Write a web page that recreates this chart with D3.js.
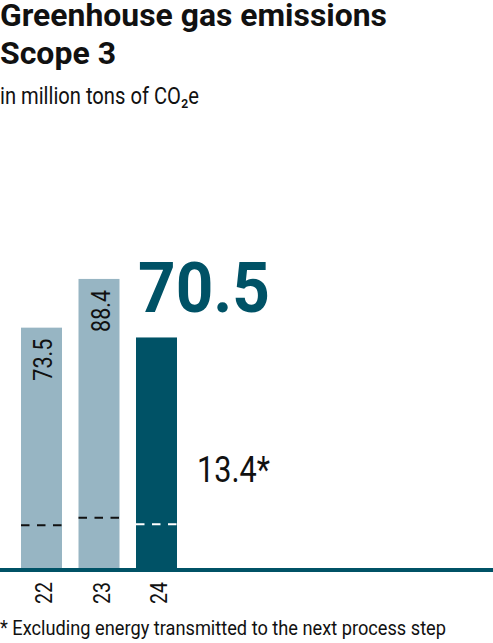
<!DOCTYPE html>
<html>
<head>
<meta charset="utf-8">
<script src="https://cdn.jsdelivr.net/npm/d3@7"></script>
<style>
  body { margin: 0; background: #fff; }
  svg text { font-family: Roboto, "Noto Sans", sans-serif; }
</style>
</head>
<body>
<div id="chart"></div>
<script>
// values
const years = ["22", "23", "24"];
const totals = [73.5, 88.4, 70.5];
const excluded = [13.1, 15.4, 13.4];   // dashed marks, only the last one is labelled
const highlight = "24";

const lightBar = "#97b5c3";
const darkBar = "#005266";

const width = 493, height = 643;

// Roboto is wider than the narrow corporate font, so stretch/squash to the width seen
function fit(sel, w) {
    sel.attr("textLength", w).attr("lengthAdjust", "spacingAndGlyphs");
}

let data = years.map((y, i) => ({ year: y, total: totals[i], excl: excluded[i] }));

let svg = d3.select("#chart")
    .append("svg")
    .attr("width", width)
    .attr("height", height);

// titles
let t1 = svg.append("text").attr("x", 0).attr("y", 26)
    .attr("font-size", 32).attr("font-weight", 700).attr("fill", "#111")
    .text("Greenhouse gas emissions");
let t2 = svg.append("text").attr("x", 0).attr("y", 64)
    .attr("font-size", 32).attr("font-weight", 700).attr("fill", "#111")
    .text("Scope 3");
fit(t1, 387);
fit(t2, 116);

let sub = svg.append("text").attr("x", 0).attr("y", 104)
    .attr("font-size", 23).attr("fill", "#111")
    .text("in million tons of CO\u2082e");
fit(sub, 199);

// scales
let x = d3.scaleBand()
    .domain(years)
    .range([21, 177])
    .paddingInner(0.287)
    .paddingOuter(0);

let y = d3.scaleLinear()
    .domain([0, 100])
    .range([568, 241]);

// bars
svg.selectAll("rect.bar")
    .data(data)
    .enter()
    .append("rect")
    .attr("class", "bar")
    .attr("x", (d) => x(d.year))
    .attr("y", (d) => y(d.total))
    .attr("width", x.bandwidth())
    .attr("height", (d) => y(0) - y(d.total))
    .attr("fill", (d) => d.year === highlight ? darkBar : lightBar);

// dashed share inside each bar
svg.selectAll("line.excl")
    .data(data)
    .enter()
    .append("line")
    .attr("class", "excl")
    .attr("x1", (d) => x(d.year))
    .attr("x2", (d) => x(d.year) + x.bandwidth())
    .attr("y1", (d) => y(d.excl))
    .attr("y2", (d) => y(d.excl))
    .attr("stroke", (d) => d.year === highlight ? "#fff" : "#111")
    .attr("stroke-width", 2)
    .attr("stroke-dasharray", "8.5,7.5");

// rotated value labels for the older years
let vlab = svg.selectAll("text.val")
    .data(data.filter((d) => d.year !== highlight))
    .enter()
    .append("text")
    .attr("class", "val")
    .attr("transform", (d) => `translate(${x(d.year) + x.bandwidth() / 2 + 2},${y(d.total) + 11}) rotate(-90)`)
    .attr("text-anchor", "end")
    .attr("dy", "0.355em")
    .attr("font-size", 25)
    .attr("fill", "#111")
    .text((d) => d.total.toFixed(1));
fit(vlab, 42);

// big label for the current year
let cur = data.find((d) => d.year === highlight);
let big = svg.append("text")
    .attr("x", x(cur.year) + 2)
    .attr("y", y(cur.total) - 25)
    .attr("font-size", 70)
    .attr("font-weight", 700)
    .attr("fill", darkBar)
    .text(cur.total.toFixed(1));
fit(big, 132);

let star = svg.append("text")
    .attr("x", x(cur.year) + x.bandwidth() + 20)
    .attr("y", y(cur.excl) - 42)
    .attr("font-size", 36)
    .attr("fill", "#111")
    .text(cur.excl.toFixed(1) + "*");
fit(star, 73);

// axis
let axis = svg.append("g")
    .attr("transform", `translate(0,${y(0) + 2})`)
    .call(d3.axisBottom(x).tickSize(0));
axis.select(".domain").remove();
let ticks = axis.selectAll(".tick text")
    .attr("transform", "rotate(-90)")
    .attr("text-anchor", "end")
    .attr("x", -12)
    .attr("y", 2)
    .attr("dy", "0.355em")
    .attr("font-size", 24)
    .attr("font-family", "Roboto, sans-serif")
    .attr("fill", "#111");
fit(ticks, 22);

svg.append("line")
    .attr("x1", 0)
    .attr("x2", width)
    .attr("y1", y(0) + 2)
    .attr("y2", y(0) + 2)
    .attr("stroke", darkBar)
    .attr("stroke-width", 4);

// footnote
let foot = svg.append("text").attr("x", 0).attr("y", 635)
    .attr("font-size", 21).attr("fill", "#111")
    .text("* Excluding energy transmitted to the next process step");
fit(foot, 446);
</script>
</body>
</html>
